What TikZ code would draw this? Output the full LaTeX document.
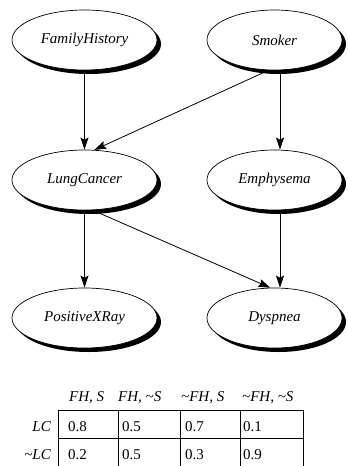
\documentclass[tikz,border=0pt]{standalone}
\usepackage{fontspec}
\setmainfont{Liberation Serif}
\usetikzlibrary{shapes.geometric,shadows,arrows.meta}

\begin{document}
\begin{tikzpicture}[x=1pt, y=-1pt,
  bnode/.style={ellipse, draw, fill=white, line width=0.7pt, inner sep=0pt,
    minimum height=60pt, font=\fontsize{15}{18}\selectfont\itshape,
    drop shadow={fill=black, opacity=1, shadow xshift=4pt, shadow yshift=-4pt}},
  wide/.style={bnode, minimum width=145pt},
  narrow/.style={bnode, minimum width=135pt},
  link/.style={-{Stealth[length=12pt,width=8pt,inset=2pt]}, line width=0.8pt},
  cell/.style={anchor=west, inner sep=0pt, font=\fontsize{15}{17}\selectfont}]
  \useasboundingbox (0,0) rectangle (348,466);
  % the network
  \node[wide] (fh) at (84.5,40) {FamilyHistory};
  \node[narrow] (smk) at (274.5,40) {Smoker};
  \node[wide] (lc) at (84.5,180) {LungCancer};
  \node[narrow] (emp) at (274.5,180) {Emphysema};
  \node[wide] (pxr) at (84.5,318) {PositiveXRay};
  \node[narrow] (dys) at (274.5,318) {Dyspnea};
  \draw[link] (fh) -- (lc);
  \draw[link] (smk.259) -- (lc.72);
  \draw[link] ([xshift=5.5pt]smk.south) -- ([xshift=5.5pt]emp.north);
  \draw[link] (lc) -- (pxr);
  \draw[link] (lc.285) -- (dys.98);
  \draw[link] ([xshift=5.5pt]emp.south) -- ([xshift=5.5pt]dys.north);
  % table for LungCancer
  \draw[line width=0.7pt] (58,466) -- (58,410) -- (303,410) -- (303,466);
  \draw[line width=0.7pt] (58,438) -- (303,438);
  \foreach \x in {118,180,240}
    \draw[line width=0.7pt] (\x,410) -- (\x,466);
  \node[cell] (h1) at (69,398) {\itshape FH, S};
  \node[cell] (h2) at (118,398) {\itshape FH, \textasciitilde S};
  \node[cell] (h3) at (181,398) {\itshape \textasciitilde FH, S};
  \node[cell] (h4) at (242,398) {\itshape \textasciitilde FH, \textasciitilde S};
  \node[cell, anchor=east] (r1) at (51,427) {\itshape LC};
  \node[cell, anchor=east] (r2) at (51,455) {\itshape \textasciitilde LC};
  \node[cell] (a1) at (68,427) {0.8};
  \node[cell] (a2) at (122,427) {0.5};
  \node[cell] (a3) at (185,427) {0.7};
  \node[cell] (a4) at (243,427) {0.1};
  \node[cell] (b1) at (68,455) {0.2};
  \node[cell] (b2) at (122,455) {0.5};
  \node[cell] (b3) at (185,455) {0.3};
  \node[cell] (b4) at (243,455) {0.9};
\end{tikzpicture}
\end{document}
